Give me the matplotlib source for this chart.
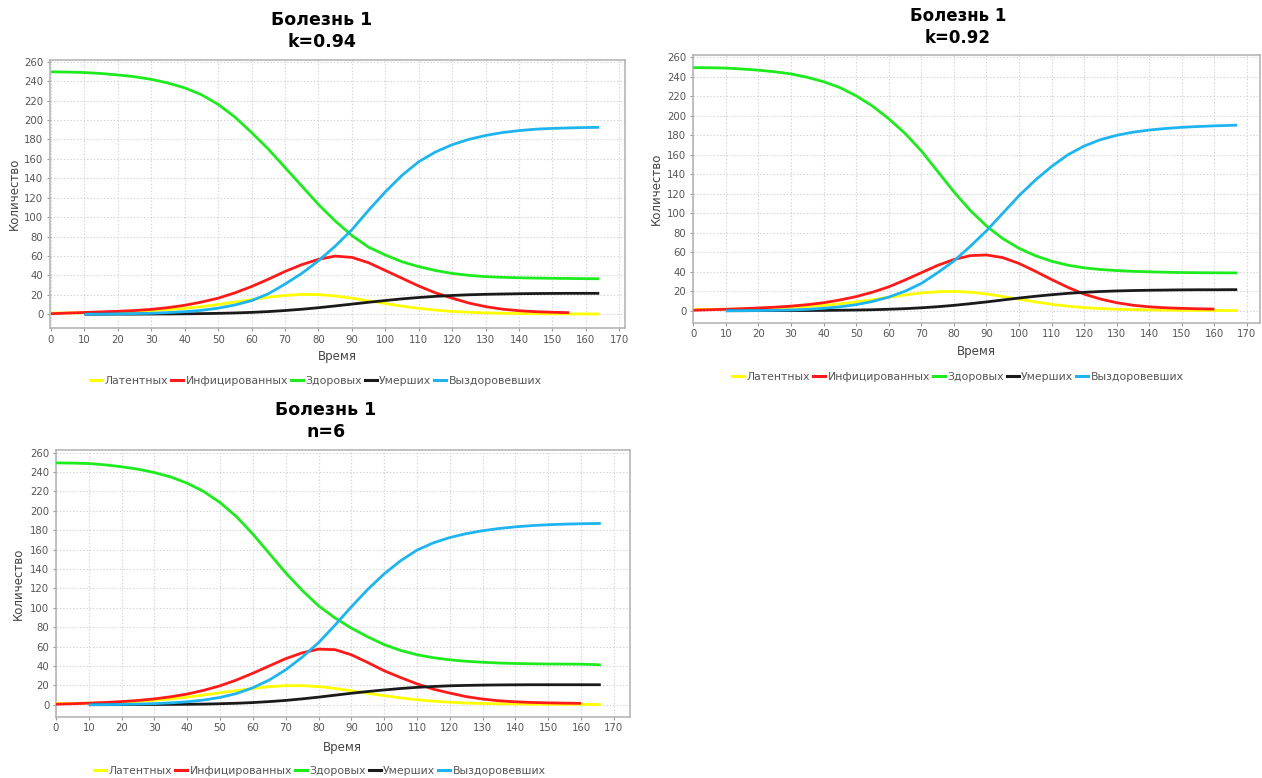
import numpy as np
import matplotlib
matplotlib.use("Agg")
import matplotlib.pyplot as plt
from matplotlib.lines import Line2D

nan = np.nan

# ---------------- data ----------------
series_names = ["Латентных", "Инфицированных", "Здоровых", "Умерших", "Выздоровевших"]
series_colors = ["#FFFF00", "#FF1A1A", "#1EEB1E", "#1A1A1A", "#1EB4F0"]

# Panel 1: k=0.94
t1 = list(range(0, 165, 5)) + [164]
lat1 = [1.2, 1.3, 1.5, 1.8, 2.2, 2.8, 3.6, 4.7, 6.0, 7.8, 10, 12.5, 15, 17.5, 19.3, 20.4, 20.2,
        18.8, 16.5, 13.8, 11, 8.3, 6, 4.2, 2.9, 2.0, 1.4, 1.0, 0.7, 0.5, 0.4, 0.3, 0.3, 0.2]
inf1 = [0.5, 1.2, 1.8, 2.4, 3.0, 3.8, 5.0, 6.8, 9.2, 12.5, 16.5, 22, 28.5, 36, 44, 51, 56.5,
        59.8, 58.5, 53, 45, 37, 29, 22, 16.5, 11.5, 7.8, 5.2, 3.6, 2.6, 2.0, 1.6, nan, nan]
hea1 = [249.5, 249.3, 248.8, 247.8, 246.3, 244.5, 241.8, 238, 233, 226, 216, 203, 187, 170, 151,
        132, 113, 96, 81, 69, 61, 54, 49, 45, 42, 40, 38.7, 38, 37.5, 37.2, 37, 36.8, 36.6, 36.5]
dea1 = [nan, nan, 0, 0, 0.1, 0.1, 0.2, 0.3, 0.4, 0.6, 0.9, 1.3, 1.9, 2.7, 3.8, 5.1, 6.7, 8.5,
        10.4, 12.3, 14.1, 15.8, 17.2, 18.4, 19.3, 20, 20.5, 20.8, 21.1, 21.3, 21.4, 21.5, 21.5, 21.5]
rec1 = [nan, nan, 0, 0.1, 0.3, 0.6, 1.0, 1.7, 2.6, 4.0, 6.2, 9.5, 14, 21, 31, 42, 55, 70, 87,
        107, 126, 143, 157, 167, 174.5, 180, 184, 187, 189, 190.5, 191.3, 191.8, 192.2, 192.4]

# Panel 2: k=0.92
t2 = list(range(0, 170, 5)) + [167]
lat2 = [1.2, 1.3, 1.5, 1.8, 2.2, 2.7, 3.4, 4.3, 5.5, 7, 9, 11.3, 13.8, 16.2, 18.2, 19.5, 19.8,
        19, 17.2, 14.6, 11.8, 9, 6.6, 4.6, 3.2, 2.2, 1.5, 1.1, 0.8, 0.6, 0.4, 0.3, 0.3, 0.2, 0.2]
inf2 = [0.5, 1.0, 1.5, 2.1, 2.8, 3.6, 4.7, 6.2, 8.2, 11, 14.5, 19, 24.5, 31.5, 39, 46.5, 52.5,
        56.5, 57.2, 54.5, 48.5, 40.5, 32, 24, 17, 12, 8.2, 5.6, 4, 3, 2.4, 2, 1.7, nan, nan]
hea2 = [249.5, 249.3, 249, 248, 246.8, 245.2, 243, 239.5, 235, 229, 220.5, 210, 197, 182, 164,
        143, 122, 103, 87, 74, 64, 56.5, 50.8, 46.7, 44, 42.3, 41.2, 40.4, 39.9, 39.5, 39.2, 39,
        38.9, 38.8, 38.8]
dea2 = [nan, nan, 0, 0, 0.1, 0.1, 0.2, 0.2, 0.3, 0.5, 0.7, 1.0, 1.5, 2.1, 3.0, 4.1, 5.5, 7.2, 9,
        11, 13, 14.8, 16.4, 17.8, 18.9, 19.7, 20.3, 20.7, 21, 21.2, 21.4, 21.5, 21.5, 21.6, 21.6]
rec2 = [nan, nan, 0, 0.1, 0.2, 0.4, 0.8, 1.4, 2.5, 4, 6.2, 9.5, 14, 20, 28, 39, 51, 66, 82, 100,
        118, 134, 148, 160, 169, 175.5, 180, 183.2, 185.4, 187, 188.2, 189, 189.7, 190.2, 190.4]

# Panel 3: n=6
t3 = list(range(0, 170, 5)) + [166]
lat3 = [1.2, 1.3, 1.6, 2, 2.6, 3.4, 4.5, 6, 7.8, 10, 12.3, 14.6, 16.8, 18.6, 19.6, 19.6, 18.7,
        16.8, 14.4, 11.8, 9.3, 7, 5.1, 3.6, 2.5, 1.7, 1.2, 0.9, 0.7, 0.5, 0.4, 0.3, 0.3, 0.2, 0.2]
inf3 = [0.5, 1.0, 1.6, 2.3, 3.2, 4.4, 6, 8.2, 11, 14.8, 19.5, 25.5, 32.5, 40, 47.5, 53.5, 57.3,
        56.8, 51.5, 43.5, 35, 28, 21.5, 16, 12, 8.3, 5.8, 4, 3, 2.3, 1.9, 1.6, 1.4, nan, nan]
hea3 = [249.5, 249.3, 248.8, 247.5, 245.5, 243, 239.5, 235, 228.5, 220, 208.5, 194, 176, 156,
        136, 118, 102, 89.5, 79, 70, 62, 56, 51.5, 48.5, 46.3, 44.8, 43.8, 43, 42.5, 42.2, 42,
        41.9, 41.8, 41.3, 41]
dea3 = [nan, nan, 0, 0, 0.1, 0.1, 0.2, 0.3, 0.4, 0.6, 1.0, 1.5, 2.2, 3.2, 4.4, 6, 7.8, 9.8, 11.8,
        13.6, 15.2, 16.7, 17.9, 18.8, 19.5, 19.9, 20.2, 20.4, 20.5, 20.6, 20.6, 20.6, 20.6, 20.6, 20.6]
rec3 = [nan, nan, 0, 0.1, 0.3, 0.6, 1.1, 1.9, 3, 4.8, 7.5, 11.5, 17.5, 25.5, 36, 49, 64, 82, 101,
        119, 135, 148.5, 159.5, 167, 172.5, 176.5, 179.5, 181.8, 183.5, 184.8, 185.7, 186.3, 186.7,
        187, 187]

xticks = list(range(0, 180, 10))
yticks = list(range(0, 280, 20))
title_main = "Болезнь 1"
subtitles = ["k=0.94", "k=0.92", "n=6"]
x_label = "Время"
y_label = "Количество"

# ---------------- layout (pixels) ----------------
W, H = 1262, 778
fig = plt.figure(figsize=(W / 100, H / 100), dpi=100)
fig.patch.set_facecolor("white")


def px_axes(l, t, r, b):
    return fig.add_axes([l / W, 1 - b / H, (r - l) / W, (b - t) / H])


panels = [
    dict(box=(49.5, 60, 625, 328.3), xlim=(-0.45, 171.7), ylim=(-14.5, 261.7),
         data=(t1, [lat1, inf1, hea1, dea1, rec1]), tx=322, ty1=20, ty2=42,
         xl_y=356, yl_x=14, leg=(316, 381), sub=subtitles[0], tsize=12.5),
    dict(box=(692.7, 55, 1260, 322.7), xlim=(-0.2, 174.0), ylim=(-12.3, 262.4),
         data=(t2, [lat2, inf2, hea2, dea2, rec2]), tx=958, ty1=16, ty2=38,
         xl_y=352, yl_x=656, leg=(958, 377), sub=subtitles[1], tsize=12.0),
    dict(box=(55.5, 450, 630, 717), xlim=(-0.15, 174.9), ylim=(-12.7, 262.8),
         data=(t3, [lat3, inf3, hea3, dea3, rec3]), tx=326, ty1=410, ty2=432,
         xl_y=747, yl_x=18, leg=(320, 771), sub=subtitles[2], tsize=12.5),
]

tick_color = "#555555"
for p in panels:
    ax = px_axes(*p["box"])
    t, ys = p["data"]
    for name, col, y in zip(series_names, series_colors, ys):
        ax.plot(t, y, color=col, lw=2.0, solid_capstyle="butt", solid_joinstyle="round",
                label=name, zorder=3)
    ax.set_xlim(*p["xlim"])
    ax.set_ylim(*p["ylim"])
    ax.set_xticks(xticks)
    ax.set_yticks(yticks)
    ax.grid(True, color="#d2d2d2", linestyle=(0, (1.2, 1.8)), linewidth=0.8, zorder=0)
    for s in ax.spines.values():
        s.set_color("#b0b0b0")
        s.set_linewidth(1.1)
    ax.tick_params(axis="both", colors="#999999", labelcolor=tick_color, labelsize=7.3,
                   length=2, width=0.8, pad=2.5)
    l, tp, r, b = p["box"]
    fig.text(p["tx"] / W, 1 - p["ty1"] / H, title_main, ha="center", va="center",
             fontsize=p["tsize"], fontweight="bold", color="black")
    fig.text(p["tx"] / W, 1 - p["ty2"] / H, p["sub"], ha="center", va="center",
             fontsize=p["tsize"], fontweight="bold", color="black")
    fig.text(((l + r) / 2) / W, 1 - p["xl_y"] / H, x_label, ha="center", va="center",
             fontsize=8.5, color="#444444")
    fig.text(p["yl_x"] / W, 1 - ((tp + b) / 2) / H, y_label, ha="center", va="center",
             rotation=90, fontsize=8.5, color="#444444")
    handles = [Line2D([], [], color=c, lw=2.2) for c in series_colors]
    leg = ax.legend(handles, series_names, loc="center", ncol=5, frameon=False,
                    bbox_to_anchor=(p["leg"][0] / W, 1 - p["leg"][1] / H),
                    bbox_transform=fig.transFigure, fontsize=7.8, handlelength=1.1,
                    handletextpad=0.25, columnspacing=0.25, borderaxespad=0)
    for txt in leg.get_texts():
        txt.set_color("#555555")

fig.savefig("out.png", dpi=100, facecolor="white")
